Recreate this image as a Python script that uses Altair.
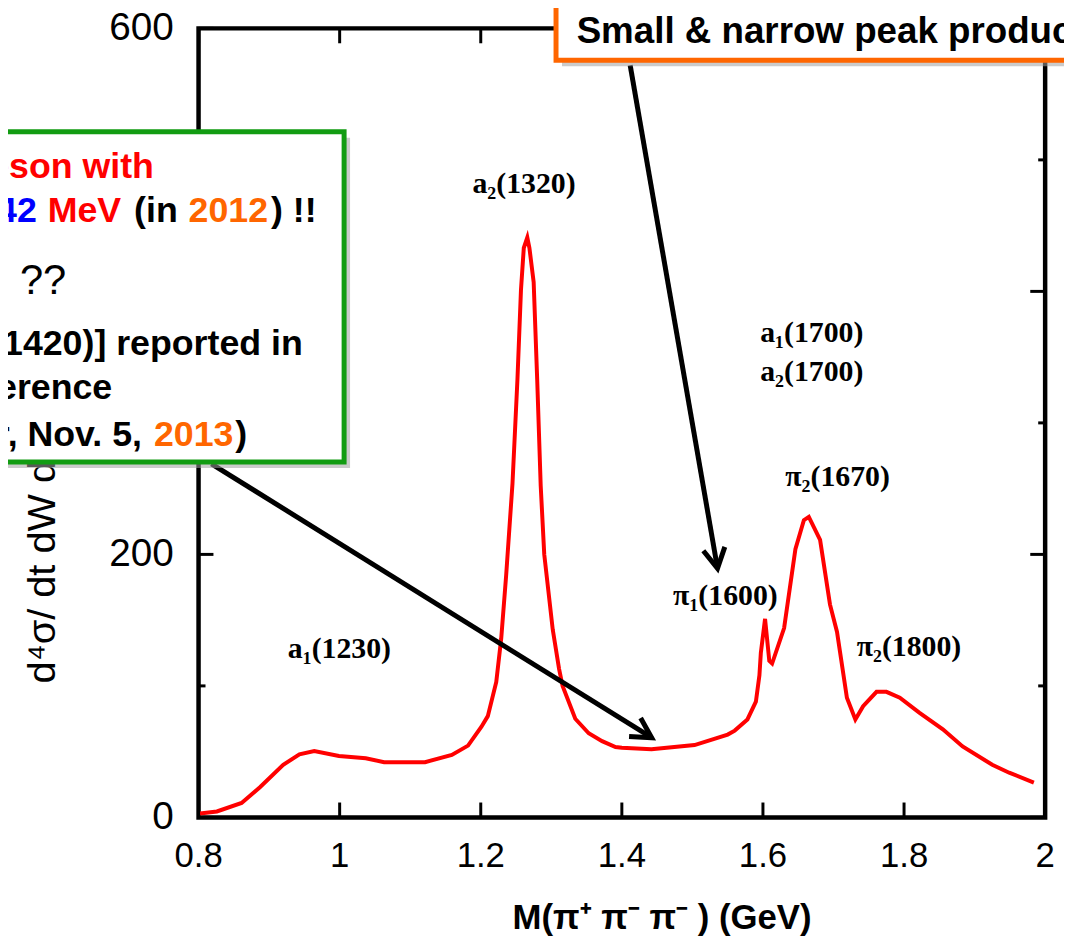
import altair as alt
import pandas as pd

# ---- curve data ----
mass = [0.802, 0.826, 0.861, 0.887, 0.920, 0.943, 0.964, 0.999, 1.037, 1.063,
        1.121, 1.159, 1.182, 1.201, 1.210, 1.222, 1.229, 1.236, 1.245, 1.252,
        1.257, 1.261, 1.266, 1.269, 1.275, 1.280, 1.285, 1.290, 1.302, 1.311,
        1.316, 1.334, 1.353, 1.372, 1.391, 1.400, 1.442, 1.503, 1.550, 1.560,
        1.578, 1.590, 1.595, 1.597, 1.603, 1.609, 1.613, 1.630, 1.646, 1.658,
        1.665, 1.681, 1.695, 1.705, 1.719, 1.731, 1.742, 1.761, 1.775, 1.794,
        1.822, 1.855, 1.883, 1.925, 1.949, 1.984]
xsec = [3, 4.5, 11, 23, 40, 48, 50.5, 46.7, 45, 42,
        42, 47.5, 54.6, 69, 77, 103, 136, 184, 254, 333,
        401, 433, 441, 433, 407, 333, 252, 200, 143, 113,
        100, 75, 64, 58, 53.5, 53, 51.8, 55, 63, 66,
        74.5, 88, 108, 125, 151, 119, 117, 144, 204, 226,
        228.5, 211, 162, 141, 91, 74.5, 84.6, 95.5, 95.5, 91,
        79.5, 67, 54, 40, 34, 26.5]

x_tick_values = [0.8, 1, 1.2, 1.4, 1.6, 1.8, 2]
x_tick_labels = ["0.8", "1", "1.2", "1.4", "1.6", "1.8", "2"]
y_major_values = [0, 200, 400, 600]
y_major_labels = ["0", "200", "400", "600"]
y_minor_values = [100, 300, 500]

x_title = "M(π⁺ π⁻ π⁻ ) (GeV)"
y_title = "d⁴σ/ dt dW dQ² dΩ"

peak_labels = ["a₁(1230)", "a₂(1320)", "π₁(1600)", "π₂(1670)", "a₁(1700)", "a₂(1700)", "π₂(1800)"]
peak_m = [0.9997, 1.2613, 1.5468, 1.7058, 1.6692, 1.6692, 1.807]
peak_v = [121.2, 475, 161.4, 252.3, 361.4, 331.8, 122.7]

arrow_m0 = [1.4118, 0.8183]
arrow_v0 = [572, 268.9]
arrow_m1 = [1.5356, 1.4423]
arrow_v1 = [189.4, 60.6]
arrow_angle = [350, 302]

box_m0 = [0.45, 1.3067]
box_m1 = [1.0063, 2.2]
box_v0 = [521.4, 650]
box_v1 = [270.2, 575.8]
box_colors = ["#129c12", "#ff6600"]

RED, BLUE, ORANGE, BLACK = "#ff0000", "#0000ff", "#ff6600", "#000000"

left_text = ["MeV", "(in", "2012", ") !!", "2013", ")",
             "Small & narrow peak produced by the triangle singularity"]
left_m = [0.5862, 0.7086, 0.7859, 0.9027, 0.7367, 0.852, 1.3359]
left_v = [453.0, 453.0, 453.0, 453.0, 282.6, 282.6, 588.6]
left_col = [RED, BLACK, ORANGE, BLACK, ORANGE, BLACK, BLACK]
left_size = [36, 36, 36, 36, 36, 36, 37]

right_text = ["New meson with", "142", "[a₁(1420)] reported in",
              "at the Hadron 2013 conference", "(COMPASS speaker, Nov. 5,"]
right_m = [0.7367, 0.5707, 0.9477, 0.6776, 0.7198]
right_v = [486.4, 453.0, 351.5, 318.2, 282.6]
right_col = [RED, BLUE, BLACK, BLACK, BLACK]

plain_text = ["??"]
plain_m = [0.5468]
plain_v = [397.7]

W, H = 853, 795
xs = alt.Scale(domain=[0.8, 2.0], nice=False, zero=False)
ys = alt.Scale(domain=[0, 600], nice=False, zero=False)

X = lambda f: alt.X(f, scale=xs, axis=None)
Y = lambda f: alt.Y(f, scale=ys, axis=None)

curve = pd.DataFrame({"m": mass, "v": xsec})
line = alt.Chart(curve).mark_line(color=RED, strokeWidth=4).encode(x=X("m:Q"), y=Y("v:Q"))

xt = pd.DataFrame({"t": x_tick_values, "lab": x_tick_labels})
ymaj = pd.DataFrame({"t": y_major_values, "lab": y_major_labels})
ymin = pd.DataFrame({"t": y_minor_values})

def xticks(y0, y1):
    return alt.Chart(xt).mark_rule(color="black", strokeWidth=3).encode(
        x=X("t:Q"), y=alt.value(y0), y2=alt.value(y1))

def yticks(df, x0, x1):
    return alt.Chart(df).mark_rule(color="black", strokeWidth=3).encode(
        y=Y("t:Q"), x=alt.value(x0), x2=alt.value(x1))

ticks = [xticks(H, H - 15), xticks(0, 15),
         yticks(ymaj, 0, 15), yticks(ymin, 0, 7),
         yticks(ymaj, W, W - 15), yticks(ymin, W, W - 7)]

x_labels = alt.Chart(xt).mark_text(font="Liberation Sans", fontSize=35, color="black",
                                   align="center", baseline="alphabetic").encode(
    x=X("t:Q"), y=alt.value(H + 50), text="lab:N")
y_labels = alt.Chart(ymaj).mark_text(font="Liberation Sans", fontSize=39, color="black",
                                     align="right", baseline="middle").encode(
    y=Y("t:Q"), x=alt.value(-25), text="lab:N")

titles = pd.DataFrame({"t": [x_title]})
x_title_layer = alt.Chart(titles).mark_text(font="Liberation Sans", fontSize=35,
                                            fontWeight="bold", color="black",
                                            align="center", baseline="alphabetic").encode(
    x=alt.value(467), y=alt.value(H + 112), text="t:N")
ytitles = pd.DataFrame({"t": [y_title]})
y_title_layer = alt.Chart(ytitles).mark_text(font="Liberation Sans", fontSize=40,
                                             color="black", angle=270, align="left",
                                             baseline="alphabetic").encode(
    x=alt.value(-145), y=alt.value(660), text="t:N")

arrows = pd.DataFrame({"m0": arrow_m0, "v0": arrow_v0, "m1": arrow_m1,
                       "v1": arrow_v1, "ang": arrow_angle})
shafts = alt.Chart(arrows).mark_rule(color="black", strokeWidth=5).encode(
    x=X("m0:Q"), y=Y("v0:Q"), x2="m1:Q", y2="v1:Q")
heads = alt.Chart(arrows).mark_point(
    shape="M -0.55 -1 L 0 0 L 0.55 -1", filled=False, color="black",
    strokeWidth=5, opacity=1, size=1600).encode(
    x=X("m1:Q"), y=Y("v1:Q"), angle=alt.Angle("ang:Q", scale=None))

boxes = pd.DataFrame({"m0": box_m0, "m1": box_m1, "v0": box_v0, "v1": box_v1,
                      "c": box_colors})
shadow = alt.Chart(boxes).mark_rect(color="#a0a0a0", opacity=0.55, xOffset=6, x2Offset=6,
                                    yOffset=6, y2Offset=6).encode(
    x=X("m0:Q"), x2="m1:Q", y=Y("v0:Q"), y2="v1:Q")
box = alt.Chart(boxes).mark_rect(fill="white", strokeWidth=5).encode(
    x=X("m0:Q"), x2="m1:Q", y=Y("v0:Q"), y2="v1:Q",
    stroke=alt.Stroke("c:N", scale=None))

peaks = pd.DataFrame({"t": peak_labels, "m": peak_m, "v": peak_v})
peak_text = alt.Chart(peaks).mark_text(font="Liberation Serif", fontWeight="bold",
                                       fontSize=30, color="black", align="center",
                                       baseline="alphabetic").encode(
    x=X("m:Q"), y=Y("v:Q"), text="t:N")

ldf = pd.DataFrame({"t": left_text, "m": left_m, "v": left_v, "c": left_col, "s": left_size})
left_layer = alt.Chart(ldf).mark_text(font="Liberation Sans", fontWeight="bold",
                                      align="left", baseline="alphabetic").encode(
    x=X("m:Q"), y=Y("v:Q"), text="t:N",
    color=alt.Color("c:N", scale=None), size=alt.Size("s:Q", scale=None))

rdf = pd.DataFrame({"t": right_text, "m": right_m, "v": right_v, "c": right_col})
right_layer = alt.Chart(rdf).mark_text(font="Liberation Sans", fontWeight="bold", fontSize=36,
                                       align="right", baseline="alphabetic").encode(
    x=X("m:Q"), y=Y("v:Q"), text="t:N", color=alt.Color("c:N", scale=None))

pdf = pd.DataFrame({"t": plain_text, "m": plain_m, "v": plain_v})
plain_layer = alt.Chart(pdf).mark_text(font="Liberation Sans", fontSize=42, color="black",
                                       align="left", baseline="alphabetic").encode(
    x=X("m:Q"), y=Y("v:Q"), text="t:N")

chart = alt.layer(x_labels, y_labels, x_title_layer, y_title_layer, line, *ticks,
                  shafts, heads, shadow, box, peak_text,
                  left_layer, right_layer, plain_layer).properties(
    width=W, height=H,
    padding={"left": 192, "top": 17, "right": 19, "bottom": 122},
    autosize=alt.AutoSizeParams(type="none"),
).configure_view(stroke="black", strokeWidth=4.5)

chart.save("out.html", embed_options={"renderer": "svg", "actions": False})
